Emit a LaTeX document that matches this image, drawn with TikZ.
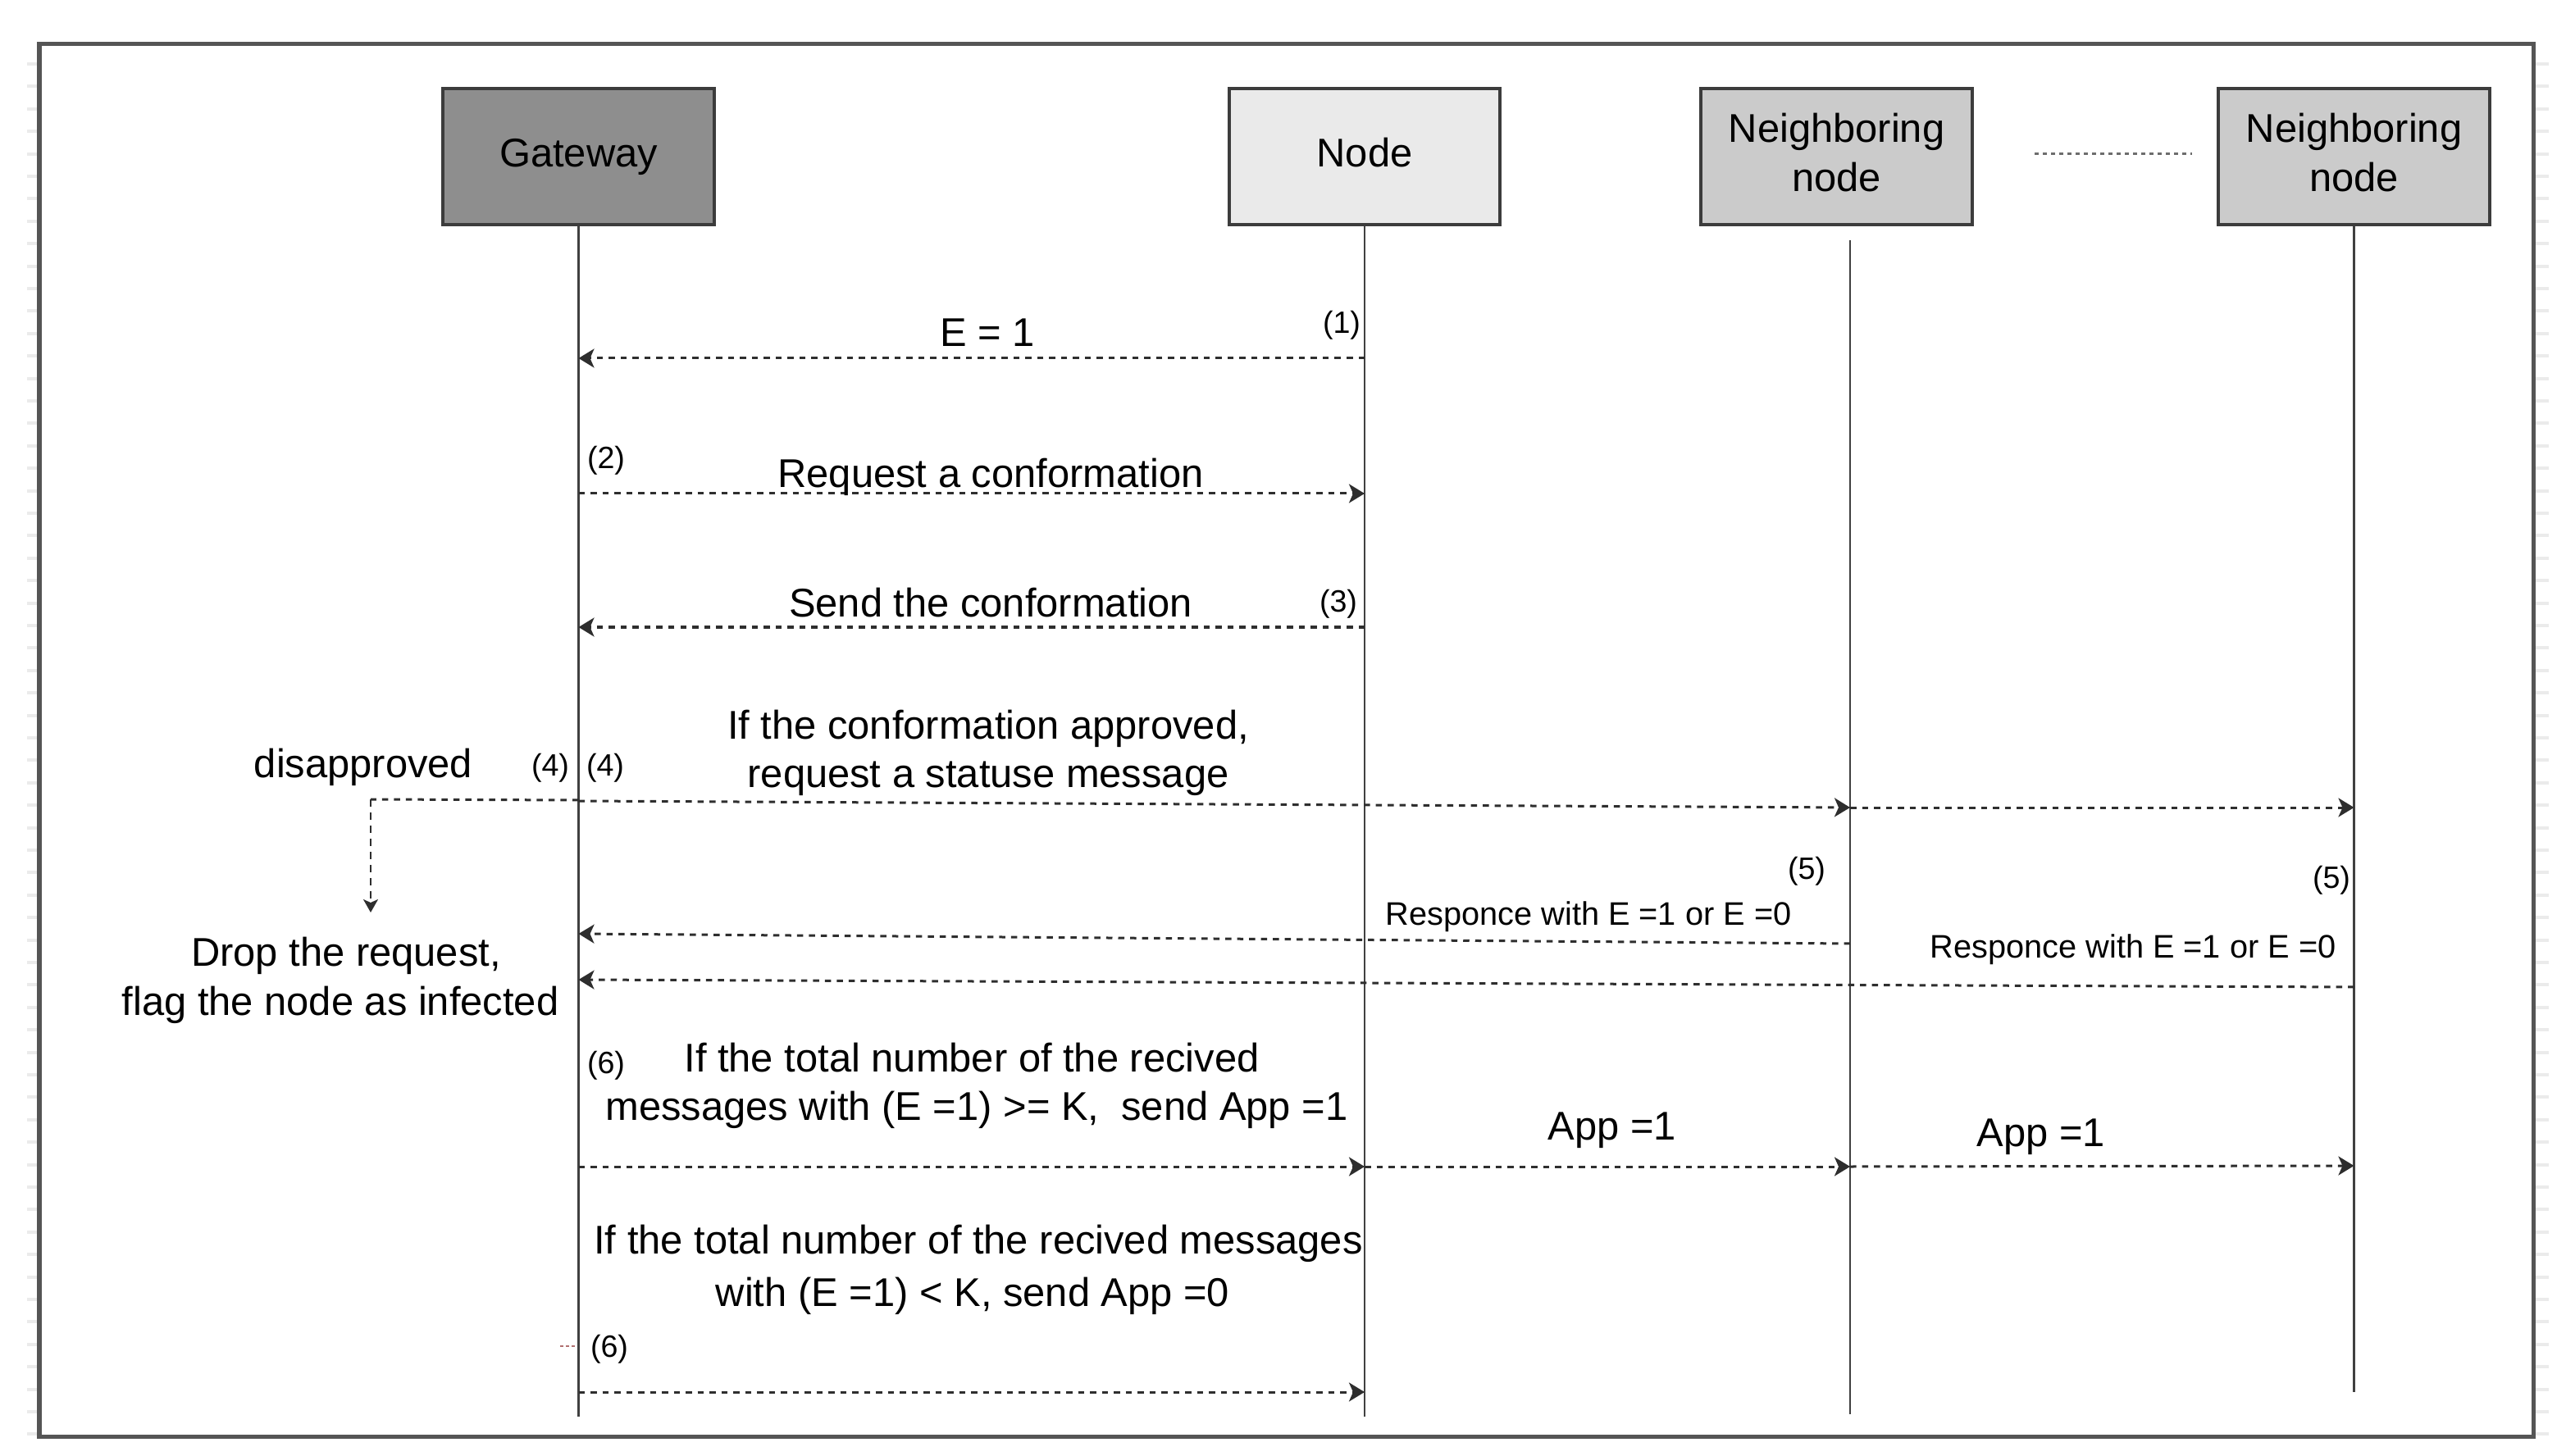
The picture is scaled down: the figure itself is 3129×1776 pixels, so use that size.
\documentclass[tikz,border=0pt]{standalone}
\usepackage{fontspec}
\setmainfont{Liberation Sans}
\usetikzlibrary{arrows.meta}
\definecolor{frameC}{HTML}{555555}
\definecolor{boxline}{HTML}{3C3C3C}
\definecolor{gwfill}{HTML}{8E8E8E}
\definecolor{ndfill}{HTML}{EAEAEA}
\definecolor{nbfill}{HTML}{CBCBCB}
\definecolor{lifeC}{HTML}{404040}
\definecolor{msgC}{HTML}{2E2E2E}
\definecolor{tickC}{HTML}{EBEBEB}
\definecolor{markC}{HTML}{B07070}
\begin{document}
\begin{tikzpicture}[x=0.01cm, y=-0.01cm,
  every node/.style={font=\fontsize{13.9pt}{17pt}\selectfont, inner sep=0pt},
  small/.style={font=\fontsize{10.7pt}{13pt}\selectfont},
  resp/.style={font=\fontsize{11.3pt}{14pt}\selectfont},
  actor/.style={draw=boxline, line width=0.04cm, minimum width=3.3cm, minimum height=1.66cm, align=center, text depth=0.1cm},
  lifeline/.style={draw=lifeC, line width=0.025cm},
  msg/.style={draw=msgC, line width=0.03cm, dash pattern=on 0.075cm off 0.07cm,
    -{Stealth[length=0.19cm,width=0.23cm,inset=0.05cm]}},
  dotln/.style={draw=msgC, line width=0.03cm, dash pattern=on 0.075cm off 0.07cm},
  dashln/.style={draw=msgC, line width=0.02cm, dash pattern=on 0.09cm off 0.07cm,
    -{Stealth[length=0.16cm,width=0.18cm,inset=0.04cm]}},
  tick/.style={draw=tickC, line width=0.04cm}
]
\useasboundingbox (0,0) rectangle (3129,1776);

% faint grid ticks outside the frame
\foreach \k in {0,...,61} {
  \draw[tick] (33,{78+27.4*\k}) -- (47,{78+27.4*\k});
  \draw[tick] (3092,{78+27.4*\k}) -- (3108,{78+27.4*\k});
}

% outer frame
\draw[draw=frameC, line width=0.05cm] (48,54) rectangle (3089,1752);

% actors
\node[actor, fill=gwfill] (gw)  at (705.5,191) {Gateway};
\node[actor, fill=ndfill] (nd)  at (1664,191) {Node};
\node[actor, fill=nbfill] (nb1) at (2239.5,191) {Neighboring\\node};
\node[actor, fill=nbfill] (nb2) at (2870.5,191) {Neighboring\\node};
\coordinate (dotsL) at (2481,188);
\coordinate (dotsR) at (2673,188);
\draw[draw=msgC!70, line width=0.03cm, dash pattern=on 0.05cm off 0.05cm] (dotsL) -- (dotsR);

% lifelines
\coordinate (n1top) at (2256,293);
\draw[lifeline] (gw.south) -- (gw.south |- 0,1728);
\draw[lifeline] (nd.south) -- (nd.south |- 0,1728);
\draw[lifeline] (n1top) -- (n1top |- 0,1725);
\draw[lifeline] (nb2.south) -- (nb2.south |- 0,1698);

% (1) E = 1
\draw[msg] (nd.south |- 0,437) -- (gw.south |- 0,437);
\node[anchor=base] (tE1) at (1204,423) {E = 1};
\node[anchor=base, small] (s1) at (1636,407) {(1)};

% (2) request
\draw[msg] (gw.south |- 0,602) -- (nd.south |- 0,602);
\node[anchor=base] (tReq) at (1208,595) {Request a conformation};
\node[anchor=base, small] (s2) at (739,572) {(2)};

% (3) send
\draw[msg] (nd.south |- 0,765) -- (gw.south |- 0,765);
\node[anchor=base] (tSend) at (1208,752) {Send the conformation};
\node[anchor=base, small] (s3) at (1632,747) {(3)};

% (4) status request
\draw[msg] (gw.south |- 0,977) -- (n1top |- 0,985);
\draw[msg] (n1top |- 0,985) -- (nb2.south |- 0,985);
\node[anchor=base] (tApp1) at (1205,901) {If the conformation approved,};
\node[anchor=base] (tApp2) at (1205,960) {request a statuse message};
\node[anchor=base, small] (s4l) at (671,946) {(4)};
\node[anchor=base, small] (s4r) at (738,946) {(4)};
\node[anchor=base] (tDis) at (443,948) {disapproved};
\draw[dotln] (gw.south |- 0,976) -- (452,975) coordinate (dcorner);
\coordinate (dtip) at (452,1113);
\draw[dashln] (dcorner) -- (dtip);
\node[anchor=base] (tDrop1) at (422,1178) {Drop the request,};
\node[anchor=base] (tDrop2) at (415,1238) {flag the node as infected};

% (5) responses
\draw[msg] (n1top |- 0,1151) -- (gw.south |- 0,1139);
\draw[msg] (nb2.south |- 0,1204) -- (gw.south |- 0,1195);
\node[anchor=base, resp] (tRespA) at (1937,1128) {Responce with E =1 or E =0};
\node[anchor=base, resp] (tRespB) at (2601,1168) {Responce with E =1 or E =0};
\node[anchor=base, small] (s5a) at (2203,1072) {(5)};
\node[anchor=base, small] (s5b) at (2843,1083) {(5)};

% (6) App = 1
\draw[msg] (gw.south |- 0,1423) -- (nd.south |- 0,1423);
\draw[msg] (nd.south |- 0,1423) -- (n1top |- 0,1423);
\draw[msg] (n1top |- 0,1423) -- (nb2.south |- 0,1422);
\node[anchor=base, small] (s6a) at (739,1309) {(6)};
\node[anchor=base] (tK1) at (1185,1307) {If the total number of the recived};
\node[anchor=base] (tK2) at (1191,1366) {messages with (E =1) >= K,\ \ send App =1};
\node[anchor=base] (tAppA) at (1966,1390) {App =1};
\node[anchor=base] (tAppB) at (2489,1398) {App =1};

% (6) App = 0
\draw[msg] (gw.south |- 0,1698) -- (nd.south |- 0,1698);
\node[anchor=base] (tL1) at (1193,1529) {If the total number of the recived messages};
\node[anchor=base] (tL2) at (1186,1593) {with (E =1) < K, send App =0};
\node[anchor=base, small] (s6b) at (743,1655) {(6)};
\draw[draw=markC, line width=0.025cm, dash pattern=on 0.04cm off 0.03cm] (683,1642) -- (703,1642);
\end{tikzpicture}
\end{document}
